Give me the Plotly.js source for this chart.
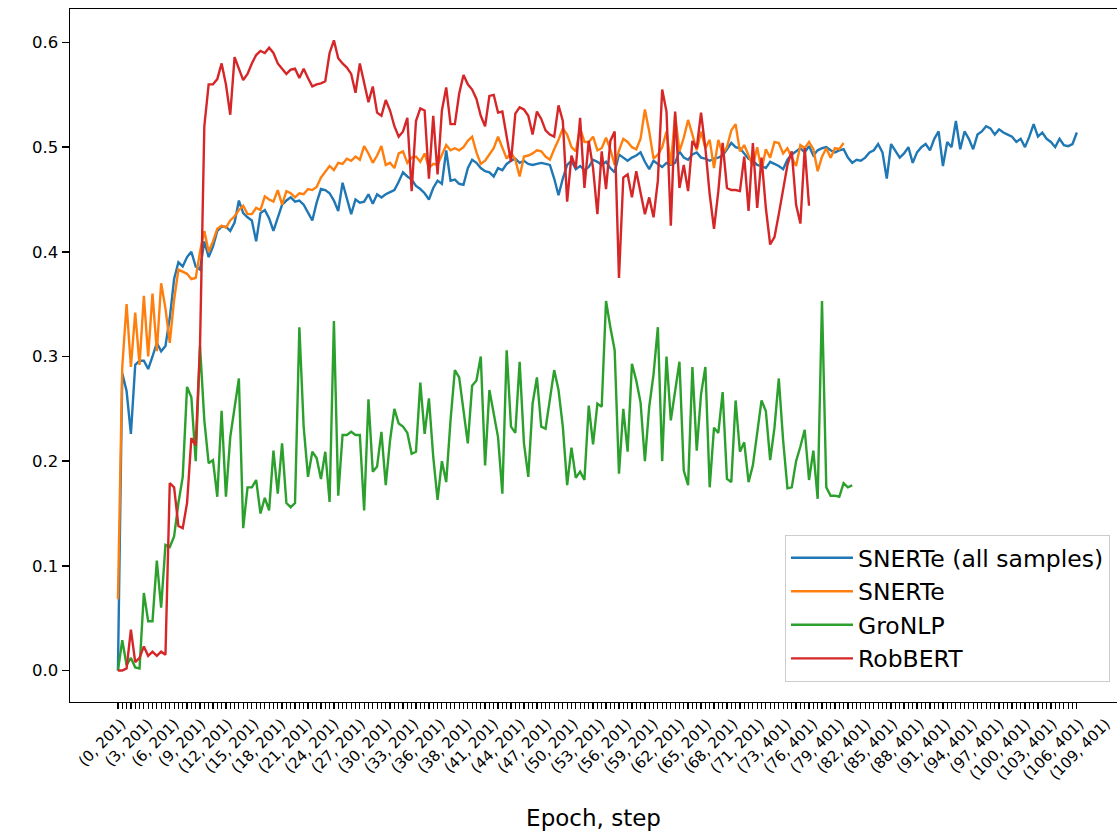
<!DOCTYPE html>
<html>
<head>
<meta charset="utf-8">
<script src="https://cdn.plot.ly/plotly-3.0.1.min.js"></script>
<style>
  html, body { margin: 0; padding: 0; background: #ffffff; }
  #chart { width: 1117px; height: 836px; }
</style>
</head>
<body>
<div id="chart"></div>
<script>
// ---- Data ----
const seriesNames = ["SNERTe (all samples)", "SNERTe", "GroNLP", "RobBERT"];

const snerteAll = [
  0.000, 0.284, 0.267, 0.226, 0.292, 0.296, 0.296, 0.288, 0.300, 0.313,
  0.305, 0.310, 0.337, 0.374, 0.390, 0.386, 0.395, 0.400, 0.386, 0.383,
  0.410, 0.395, 0.405, 0.420, 0.424, 0.424, 0.420, 0.428, 0.449, 0.437,
  0.433, 0.430, 0.410, 0.437, 0.440, 0.432, 0.420, 0.432, 0.445, 0.449,
  0.452, 0.448, 0.449, 0.445, 0.438, 0.430, 0.447, 0.460, 0.459, 0.456,
  0.449, 0.439, 0.466, 0.452, 0.436, 0.450, 0.447, 0.448, 0.455, 0.446,
  0.455, 0.452, 0.455, 0.457, 0.459, 0.467, 0.476, 0.472, 0.469, 0.463,
  0.460, 0.456, 0.450, 0.461, 0.468, 0.465, 0.497, 0.468, 0.469, 0.465,
  0.464, 0.480, 0.488, 0.485, 0.480, 0.477, 0.476, 0.472, 0.480, 0.478,
  0.484, 0.487, 0.489, 0.485, 0.487, 0.484, 0.483, 0.484, 0.485, 0.484,
  0.483, 0.470, 0.454, 0.470, 0.483, 0.487, 0.479, 0.482, 0.478, 0.481,
  0.488, 0.486, 0.483, 0.486, 0.480, 0.476, 0.493, 0.490, 0.487, 0.490,
  0.492, 0.495, 0.486, 0.479, 0.487, 0.484, 0.481, 0.485, 0.483, 0.485,
  0.496, 0.490, 0.488, 0.493, 0.495, 0.490, 0.489, 0.487, 0.489, 0.490,
  0.492, 0.498, 0.504, 0.500, 0.499, 0.494, 0.489, 0.487, 0.483, 0.482,
  0.480, 0.486, 0.484, 0.482, 0.479, 0.488, 0.493, 0.496, 0.499, 0.495,
  0.501, 0.492, 0.497, 0.499, 0.500, 0.497, 0.495, 0.497, 0.498, 0.490,
  0.485, 0.488, 0.487, 0.490, 0.495, 0.497, 0.503, 0.495, 0.470, 0.503,
  0.497, 0.490, 0.494, 0.500, 0.485, 0.495, 0.500, 0.503, 0.497, 0.508,
  0.515, 0.482, 0.505, 0.500, 0.525, 0.498, 0.515, 0.508, 0.498, 0.512,
  0.515, 0.520, 0.518, 0.512, 0.517, 0.514, 0.512, 0.510, 0.505, 0.508,
  0.500, 0.510, 0.522, 0.510, 0.514, 0.508, 0.505, 0.500, 0.508, 0.502,
  0.501, 0.503, 0.514
];

const snerte = [
  0.068, 0.290, 0.350, 0.290, 0.342, 0.292, 0.358, 0.300, 0.360, 0.305,
  0.370, 0.346, 0.313, 0.354, 0.383, 0.381, 0.379, 0.374, 0.375, 0.400,
  0.420, 0.400, 0.410, 0.422, 0.425, 0.423, 0.430, 0.434, 0.440, 0.444,
  0.436, 0.436, 0.442, 0.440, 0.453, 0.450, 0.448, 0.459, 0.445, 0.458,
  0.456, 0.452, 0.456, 0.455, 0.460, 0.459, 0.462, 0.471, 0.476, 0.482,
  0.478, 0.485, 0.484, 0.489, 0.487, 0.491, 0.488, 0.501, 0.494, 0.485,
  0.492, 0.501, 0.483, 0.485, 0.480, 0.494, 0.496, 0.485, 0.490, 0.491,
  0.486, 0.494, 0.480, 0.484, 0.483, 0.492, 0.502, 0.497, 0.499, 0.497,
  0.500, 0.506, 0.510, 0.495, 0.484, 0.487, 0.493, 0.499, 0.510, 0.500,
  0.489, 0.495, 0.488, 0.472, 0.491, 0.492, 0.494, 0.497, 0.496, 0.491,
  0.488, 0.498, 0.507, 0.518, 0.512, 0.500, 0.496, 0.518, 0.505, 0.505,
  0.510, 0.497, 0.499, 0.509, 0.498, 0.483, 0.497, 0.508, 0.505, 0.500,
  0.498, 0.508, 0.536, 0.515, 0.489, 0.493, 0.500, 0.515, 0.483, 0.531,
  0.496, 0.509, 0.526, 0.512, 0.497, 0.515, 0.499, 0.507, 0.480, 0.507,
  0.493, 0.500, 0.516, 0.522, 0.496, 0.502, 0.491, 0.482, 0.500, 0.478,
  0.498, 0.490, 0.505, 0.504, 0.494, 0.499, 0.490, 0.482, 0.502, 0.499,
  0.505, 0.498, 0.477, 0.491, 0.499, 0.490, 0.499, 0.498, 0.504
];

const groNLP = [
  0.000, 0.029, 0.005, 0.012, 0.003, 0.002, 0.074, 0.047, 0.047, 0.105,
  0.060, 0.120, 0.118, 0.128, 0.160, 0.185, 0.271, 0.261, 0.200, 0.310,
  0.239, 0.198, 0.201, 0.166, 0.248, 0.166, 0.223, 0.250, 0.279, 0.136,
  0.175, 0.175, 0.182, 0.150, 0.165, 0.153, 0.210, 0.169, 0.217, 0.160,
  0.156, 0.160, 0.328, 0.233, 0.185, 0.209, 0.203, 0.183, 0.209, 0.161,
  0.334, 0.167, 0.225, 0.225, 0.228, 0.225, 0.225, 0.153, 0.259, 0.190,
  0.195, 0.228, 0.177, 0.220, 0.250, 0.236, 0.233, 0.227, 0.207, 0.209,
  0.275, 0.226, 0.260, 0.204, 0.163, 0.200, 0.180, 0.239, 0.287, 0.280,
  0.248, 0.217, 0.272, 0.277, 0.300, 0.196, 0.268, 0.245, 0.223, 0.169,
  0.306, 0.233, 0.227, 0.295, 0.217, 0.185, 0.255, 0.280, 0.233, 0.231,
  0.261, 0.287, 0.268, 0.233, 0.177, 0.213, 0.184, 0.190, 0.182, 0.253,
  0.216, 0.255, 0.252, 0.353, 0.328, 0.306, 0.188, 0.250, 0.209, 0.293,
  0.277, 0.256, 0.200, 0.252, 0.283, 0.328, 0.200, 0.300, 0.239, 0.268,
  0.295, 0.191, 0.177, 0.290, 0.210, 0.264, 0.290, 0.175, 0.232, 0.227,
  0.266, 0.183, 0.180, 0.258, 0.209, 0.218, 0.180, 0.196, 0.226, 0.258,
  0.248, 0.201, 0.232, 0.279, 0.220, 0.174, 0.175, 0.200, 0.214, 0.230,
  0.182, 0.210, 0.164, 0.353, 0.175, 0.167, 0.167, 0.166, 0.179, 0.175,
  0.177
];

const robBERT = [
  0.000, 0.000, 0.002, 0.039, 0.008, 0.012, 0.023, 0.014, 0.018, 0.014,
  0.018, 0.015, 0.179, 0.175, 0.138, 0.136, 0.160, 0.222, 0.215, 0.310,
  0.520, 0.560, 0.560, 0.565, 0.580, 0.560, 0.531, 0.586, 0.575, 0.564,
  0.570, 0.580, 0.588, 0.592, 0.590, 0.595, 0.590, 0.580, 0.575, 0.570,
  0.574, 0.575, 0.566, 0.575, 0.566, 0.558, 0.560, 0.561, 0.563, 0.590,
  0.602, 0.585, 0.580, 0.576, 0.570, 0.552, 0.580, 0.560, 0.543, 0.558,
  0.533, 0.530, 0.545, 0.535, 0.520, 0.510, 0.515, 0.528, 0.458, 0.525,
  0.537, 0.535, 0.470, 0.530, 0.474, 0.535, 0.557, 0.522, 0.522, 0.551,
  0.569, 0.560, 0.555, 0.546, 0.530, 0.520, 0.549, 0.550, 0.533, 0.534,
  0.510, 0.486, 0.532, 0.538, 0.536, 0.530, 0.512, 0.534, 0.527, 0.516,
  0.512, 0.510, 0.540, 0.525, 0.448, 0.492, 0.480, 0.528, 0.461, 0.506,
  0.480, 0.436, 0.496, 0.460, 0.506, 0.515, 0.375, 0.471, 0.474, 0.452,
  0.477, 0.458, 0.436, 0.452, 0.433, 0.468, 0.555, 0.534, 0.425, 0.534,
  0.461, 0.483, 0.458, 0.506, 0.499, 0.533, 0.499, 0.455, 0.422, 0.458,
  0.504, 0.461, 0.459, 0.459, 0.458, 0.491, 0.439, 0.504, 0.442, 0.490,
  0.442, 0.407, 0.414, 0.436, 0.458, 0.483, 0.496, 0.445, 0.427, 0.499,
  0.444
];

// Tick labels shown on the x axis
const tickLabels = [
  "(0, 201)", "(3, 201)", "(6, 201)", "(9, 201)", "(12, 201)", "(15, 201)",
  "(18, 201)", "(21, 201)", "(24, 201)", "(27, 201)", "(30, 201)", "(33, 201)",
  "(36, 201)", "(38, 201)", "(41, 201)", "(44, 201)", "(47, 201)", "(50, 201)",
  "(53, 201)", "(56, 201)", "(59, 201)", "(62, 201)", "(65, 201)", "(68, 201)",
  "(71, 201)", "(73, 401)", "(76, 401)", "(79, 401)", "(82, 401)", "(85, 401)",
  "(88, 401)", "(91, 401)", "(94, 401)", "(97, 401)", "(100, 401)", "(103, 401)",
  "(106, 401)", "(109, 401)"
];
const labelStride = 6.16;
const labelOffset = 0.8;
const yTicks = [0.0, 0.1, 0.2, 0.3, 0.4, 0.5, 0.6];

// ---- Build chart ----
const colors = ["#1f77b4", "#ff7f0e", "#2ca02c", "#d62728"];
const allSeries = [snerteAll, snerte, groNLP, robBERT];
const nCategories = Math.max(...allSeries.map(s => s.length));
const categoryIdx = Array.from({ length: nCategories }, (_, i) => i);

const traces = allSeries.map((vals, k) => ({
  type: "scatter",
  mode: "lines",
  name: seriesNames[k],
  x: vals.map((_, i) => i),
  y: vals,
  line: { color: colors[k], width: 2.4 },
  hoverinfo: "x+y+name"
}));

const FONT = "DejaVu Sans, Liberation Sans, sans-serif";

const layout = {
  width: 1117,
  height: 836,
  margin: { l: 70, r: 0, t: 9, b: 134, pad: 0 },
  paper_bgcolor: "#ffffff",
  plot_bgcolor: "#ffffff",
  font: { family: FONT, color: "#000000", size: 23 },
  showlegend: true,
  xaxis: {
    range: [-11.1, 231.3],
    tickmode: "array",
    tickvals: tickLabels.map((_, k) => labelOffset + k * labelStride),
    ticktext: tickLabels,
    tickangle: -45,
    tickfont: { family: FONT, size: 15, color: "#000000" },
    ticks: "outside",
    ticklen: 6,
    tickwidth: 1,
    tickcolor: "rgba(0,0,0,0)",
    minor: { tickmode: "array", tickvals: categoryIdx, ticks: "outside", ticklen: 6, tickwidth: 1.2, tickcolor: "#000000", showgrid: false },
    showgrid: false,
    zeroline: false,
    showline: true,
    linecolor: "#000000",
    linewidth: 1.4,
    mirror: true,
    automargin: false,
    title: { text: "Epoch, step", font: { family: FONT, size: 23, color: "#000000" }, standoff: 27 }
  },
  yaxis: {
    range: [-0.0301, 0.632],
    tickmode: "array",
    tickvals: yTicks,
    ticktext: yTicks.map(v => v.toFixed(1)),
    tickfont: { family: FONT, size: 16.5, color: "#000000" },
    ticks: "outside",
    ticklen: 7,
    tickwidth: 1.4,
    tickcolor: "#000000",
    showgrid: false,
    zeroline: false,
    showline: true,
    linecolor: "#000000",
    linewidth: 1.4,
    mirror: false,
    automargin: false
  },
  legend: {
    x: 0.9933,
    y: 0.029,
    xanchor: "right",
    yanchor: "bottom",
    bgcolor: "rgba(255,255,255,0.8)",
    bordercolor: "#cccccc",
    borderwidth: 1,
    font: { family: FONT, size: 23.5, color: "#000000" },
    tracegroupgap: 0,
    itemwidth: 62
  }
};

Plotly.newPlot("chart", traces, layout, { displayModeBar: false, staticPlot: true });
</script>
</body>
</html>
